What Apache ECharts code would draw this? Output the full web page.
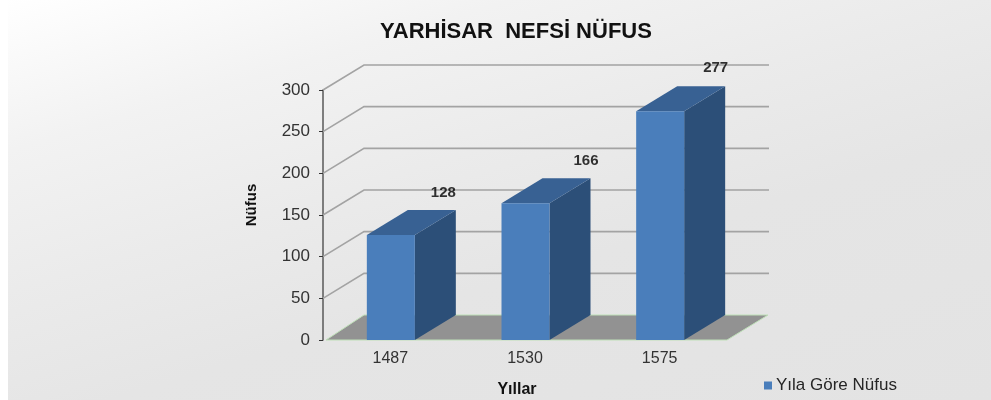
<!DOCTYPE html>
<html><head><meta charset="utf-8">
<style>html,body{margin:0;padding:0;background:#fff}#c{width:991px;height:400px}</style>
<script src="https://cdn.jsdelivr.net/npm/echarts@6/dist/echarts.min.js"></script>
</head><body><div id="c"></div>
<script>
const categories = ['1487', '1530', '1575'];
const populationAxis = [128, 166, 277];
const barShown = [126, 164, 274.5];
const yTicks = [0, 50, 100, 150, 200, 250, 300];
const seriesName = 'Yıla Göre Nüfus';
const labelShift = [[12, -30], [20, -30], [15, -31]];
const DX = 41, DY = -25, BAR_W = 48;
const font = 'Liberation Sans';
const chart = echarts.init(document.getElementById('c'));
const gridLine = (params, api) => {
  const p = api.coord([0, api.value(0)]);
  const x0 = params.coordSys.x, x1 = x0 + params.coordSys.width;
  const y = p[1];
  if (api.value(0) === 0) return null;
  return {type: 'polyline', silent: true, shape: {points: [[x0, y], [x0 + DX, y + DY], [x1 + DX + 1, y + DY]]},
    style: {stroke: '#a3a3a3', lineWidth: 1.6, fill: null}};
};
const floor = (params, api) => {
  const y = api.coord([0, 0])[1];
  const x0 = params.coordSys.x, x1 = x0 + params.coordSys.width;
  return {type: 'polygon', silent: true, shape: {points: [[x0 + 3, y], [x0 + DX, y + DY], [x1 + DX, y + DY], [x1, y]]},
    style: {fill: '#929292', stroke: '#bfe0b8', lineWidth: 1}};
};
const bar = (params, api) => {
  const c = api.coord([api.value(0), api.value(1)]);
  const b = api.coord([api.value(0), 0]);
  const l = c[0] - BAR_W / 2 + 0.5, r = l + BAR_W, t = c[1], bt = b[1];
  return {type: 'group', children: [
    {type: 'polygon', shape: {points: [[r, t], [r + DX, t + DY], [r + DX, bt + DY], [r, bt]]}, style: {fill: '#2c4f78'}},
    {type: 'polygon', shape: {points: [[l, t], [l + DX, t + DY], [r + DX, t + DY], [r, t]]}, style: {fill: '#386193'}},
    {type: 'rect', shape: {x: l, y: t, width: BAR_W, height: bt - t}, style: {fill: '#4a7ebb'}}
  ]};
};
chart.setOption({
  animation: false,
  backgroundColor: {type: 'linear', x: 0, y: 0, x2: 0.194, y2: 1.6, colorStops: [
    {offset: 0, color: '#ffffff'}, {offset: 0.22, color: '#f2f2f2'}, {offset: 0.42, color: '#ebebeb'},
    {offset: 0.62, color: '#e5e5e5'}, {offset: 1, color: '#e3e3e3'}]},
  graphic: [{type: 'rect', z: -10, silent: true, shape: {x: 0, y: 0, width: 8, height: 400}, style: {fill: '#ffffff'}}],
  title: {text: 'YARHİSAR  NEFSİ NÜFUS', left: 511, top: 16, textAlign: 'center',
    textStyle: {fontFamily: font, fontSize: 22, fontWeight: 'bold', color: '#111'}},
  legend: {left: 759, top: 372, itemWidth: 8, itemHeight: 8, itemGap: 4, icon: 'rect',
    data: [{name: seriesName, itemStyle: {color: '#4a7ebb'}}],
    textStyle: {fontFamily: font, fontSize: 17, color: '#262626', padding: [0, 0, 0, -1]}},
  grid: {left: 323, top: 90, width: 404, height: 250, outerBoundsMode: 'none'},
  xAxis: {type: 'category', data: categories, name: 'Yıllar', nameLocation: 'middle', nameGap: 42,
    nameTextStyle: {fontFamily: font, fontSize: 16, fontWeight: 'bold', color: '#111', padding: [0, 16, 0, 0]},
    axisLine: {show: false}, axisTick: {show: false},
    axisLabel: {fontFamily: font, fontSize: 16, color: '#333', margin: 11},
    splitLine: {show: false}},
  yAxis: {type: 'value', min: 0, max: 300, interval: 50, name: 'Nüfus', nameLocation: 'middle', nameGap: 64,
    nameTextStyle: {fontFamily: font, fontSize: 15, fontWeight: 'bold', color: '#111', padding: [0, 0, 0, 20]},
    axisLine: {show: true, lineStyle: {color: '#595959', width: 1.5}},
    axisTick: {show: true, length: 4, inside: false, lineStyle: {color: '#333'}},
    axisLabel: {fontFamily: font, fontSize: 17, color: '#333', margin: 13},
    splitLine: {show: false}},
  series: [
    {type: 'custom', name: 'grid', coordinateSystem: 'cartesian2d', silent: true, z: 1, renderItem: gridLine,
      data: yTicks.map(v => [v]), encode: {y: 0}},
    {type: 'custom', name: 'floor', coordinateSystem: 'cartesian2d', silent: true, z: 2, renderItem: floor,
      data: [[0]], encode: {y: 0}},
    {type: 'custom', name: seriesName, coordinateSystem: 'cartesian2d', z: 3, renderItem: bar,
      data: categories.map((c, i) => [i, barShown[i]]), encode: {x: 0, y: 1}, itemStyle: {color: '#4a7ebb'}},
    {type: 'scatter', name: 'labels', symbolSize: 0, z: 5, silent: true,
      data: categories.map((c, i) => ({value: [i, barShown[i]], count: populationAxis[i],
        label: {offset: [DX + labelShift[i][0], labelShift[i][1]]}})),
      label: {show: true, position: 'top',
        formatter: p => p.data.count, fontFamily: font, fontSize: 15, fontWeight: 'bold', color: '#000'}}
  ]
});
</script></body></html>
